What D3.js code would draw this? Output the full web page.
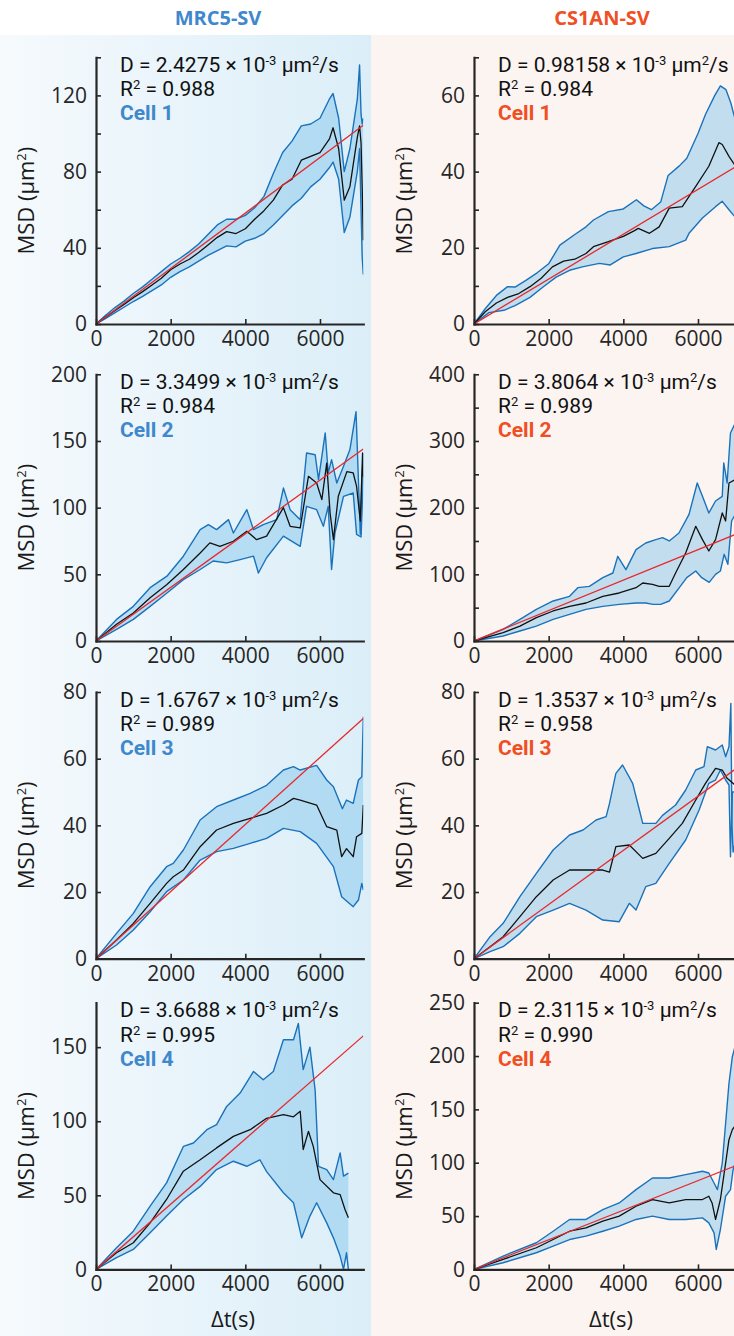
<!DOCTYPE html>
<html>
<head>
<meta charset="utf-8">
<script src="https://cdn.jsdelivr.net/npm/d3@7"></script>
<style>
  body { margin: 0; background: #ffffff; }
  svg { display: block; }
  text { font-family: "Open Sans", "DejaVu Sans", sans-serif; }
  text.note { font-family: Roboto, "Open Sans", sans-serif; }
</style>
</head>
<body>
<svg id="fig" width="734" height="1336"></svg>
<script>
// ---------------- data ----------------
const tMax = 7160;                       // s, end of the lag-time axis
const timeTicks = [0, 2000, 4000, 6000];
const cellNames = ["Cell 1", "Cell 2", "Cell 3", "Cell 4"];

// fitted diffusion coefficients (×10^-3 µm²/s) and R² of the fits
const mrcD  = [2.4275, 3.3499, 1.6767, 3.6688];
const mrcR2 = ["0.988", "0.984", "0.989", "0.995"];
const csD   = [0.98158, 3.8064, 1.3537, 2.3115];
const csR2  = ["0.984", "0.989", "0.958", "0.990"];

// y-axis extents, tick spacing and label spacing
const mrcYMax = [140, 200, 80, 180];
const mrcTickStep = [20, 50, 20, 50];
const mrcLabelStep = [40, 50, 20, 50];
const csYMax = [70, 400, 80, 250];
const csTickStep = [10, 50, 20, 50];
const csLabelStep = [20, 100, 20, 50];

// MSD curves: [lag time (s), MSD (µm²)] — mean and upper/lower envelope
const mrc1Mean  = [[0,0],[250,3.6],[500,7],[750,10.3],[1000,13.8],[1250,17],[1500,20.5],[1750,24],[2000,28.5],[2250,31.5],[2500,34],[2750,37.5],[3000,41.5],[3250,45.5],[3500,48.5],[3750,47.5],[4000,50],[4250,55],[4500,59.5],[4750,65],[5000,73],[5250,76],[5500,86],[5750,88],[6000,90],[6250,97],[6350,103],[6500,92],[6650,65],[6800,72],[7000,98],[7060,104],[7100,95],[7130,72],[7160,44]];
const mrc1Upper = [[0,0],[250,4.5],[500,8.5],[750,12],[1000,16],[1250,19.5],[1500,23.5],[1750,27.5],[2000,31.5],[2250,34.5],[2500,38],[2750,42],[3000,47],[3250,52],[3500,55],[3750,55],[4000,57],[4250,61],[4500,67],[4750,79],[5000,90],[5250,96],[5500,104],[5750,105],[6000,108],[6250,118],[6350,121],[6500,108],[6650,80],[6800,92],[7000,118],[7060,136],[7100,110],[7130,105],[7160,108]];
const mrc1Lower = [[0,0],[250,2.8],[500,5.8],[750,8.8],[1000,11.8],[1250,14.5],[1500,17.5],[1750,20.5],[2000,24.5],[2250,27.5],[2500,30],[2750,33],[3000,36],[3250,38.5],[3500,41],[3750,40.5],[4000,43.5],[4250,45],[4500,47.5],[4750,52],[5000,57],[5250,62],[5500,66],[5750,72],[6000,76],[6250,82],[6350,85],[6500,76],[6650,48],[6800,56],[7000,80],[7060,92],[7100,60],[7130,35],[7160,26]];

const mrc2Mean  = [[0,0],[550,12.5],[1000,21],[1450,32.4],[1900,42.4],[2340,53.6],[2790,66],[3050,73.6],[3320,71],[3680,74.8],[4040,82.3],[4300,76],[4570,78.6],[5020,100],[5200,86],[5470,84.8],[5690,123.5],[5910,118.5],[6050,106],[6180,133.4],[6270,96],[6360,76],[6490,108.5],[6720,127],[6890,126],[6980,116],[7080,90],[7140,141],[7160,123]];
const mrc2Upper = [[0,0],[550,16.2],[1000,26],[1450,40],[1900,48.6],[2340,63.6],[2790,83.5],[3010,87.3],[3230,83.5],[3550,91],[3680,81],[4040,98.5],[4220,83.5],[4480,87.3],[4840,91],[5020,114.7],[5200,98.5],[5470,91],[5640,141],[5870,139.7],[5960,121],[6140,156],[6220,126],[6310,136],[6450,118.5],[6630,131],[6800,143.4],[6965,172],[7030,120],[7080,80],[7130,125],[7160,141]];
const mrc2Lower = [[0,0],[550,8.7],[1000,16.2],[1450,26],[1900,36],[2340,46],[2790,53.6],[3140,60],[3500,58.6],[3860,61],[4220,63.6],[4350,51],[4570,62.4],[5020,78.6],[5470,71],[5640,101],[5910,98.5],[6090,86],[6220,101],[6310,53.6],[6400,81],[6630,108.5],[6890,111],[6980,80],[7100,78],[7160,123]];

const mrc3Mean  = [[0,0],[550,5.6],[1000,10.6],[1450,16.6],[1890,22.6],[2070,24.6],[2340,26.6],[2790,33.6],[3230,38.6],[3680,40.6],[4130,42.1],[4570,43.6],[5020,46.1],[5290,48.1],[5470,47.6],[5910,46.1],[6180,39.6],[6450,38.6],[6580,30.6],[6710,33],[6890,30.6],[6980,36.6],[7120,37.6],[7160,46.1]];
const mrc3Upper = [[0,0],[550,7.6],[1000,13.6],[1450,21.6],[1890,27.6],[2070,28.6],[2340,32.6],[2790,41.6],[3230,45.6],[3680,47.6],[4130,49.6],[4570,52],[5020,56.6],[5290,57.6],[5470,56.6],[5910,58],[6180,53.6],[6360,51.6],[6540,46.6],[6600,45],[6710,47.6],[6890,46.6],[7030,53.6],[7120,54.6],[7160,72.6]];
const mrc3Lower = [[0,0],[550,4.1],[1000,8.6],[1450,14.1],[1890,20.1],[2340,23.6],[2790,29.6],[3230,32.1],[3680,33.1],[4130,34.6],[4570,36.1],[5020,39.1],[5470,38.1],[5910,34.6],[6360,27.6],[6580,18.6],[6890,15.6],[7030,17.6],[7120,22.6],[7160,20.6]];

const mrc4Mean  = [[0,0],[550,11.2],[1000,18],[1450,31.4],[1890,47.2],[2340,66.3],[2790,74],[3230,82],[3680,89.8],[4130,94.3],[4570,102],[5020,104.4],[5290,103],[5470,106.7],[5550,80.9],[5690,93.2],[5820,83],[6000,60.6],[6360,51.7],[6540,50.5],[6670,40.4],[6760,34.8]];
const mrc4Upper = [[0,0],[550,14.6],[1000,25.8],[1450,42.7],[1890,58.4],[2340,83],[2610,85.3],[2970,94.3],[3230,97.7],[3500,110],[3860,119],[4220,133.6],[4480,128],[4750,133.6],[5020,155],[5290,155],[5420,166],[5550,134.8],[5730,150],[5870,121],[5960,69.6],[6180,67.4],[6360,60.6],[6540,78.6],[6630,63],[6760,65]];
const mrc4Lower = [[0,0],[550,7.9],[1000,13.5],[1450,24.7],[1890,36],[2340,47.2],[2790,56],[3230,67.4],[3680,73],[4040,69.6],[4390,74],[4570,66],[5020,51.7],[5290,45],[5510,21.3],[5730,36],[5910,45],[6180,31.4],[6360,21.3],[6540,9],[6630,0],[6710,11.2],[6760,0]];

const cs1Mean  = [[0,0],[300,3.2],[600,5.5],[900,7],[1200,8],[1500,9.8],[1800,12],[2100,15],[2400,16.5],[2700,17],[3000,18.5],[3200,20.3],[3600,21.6],[4000,23],[4300,24.5],[4400,25.1],[4700,23.8],[4960,25.5],[5230,30.4],[5580,30.8],[5940,36.1],[6290,41.4],[6560,47.6],[6650,47.1],[6830,44],[7000,41.5]];
const cs1Upper = [[0,0],[300,4],[600,7.5],[900,9.8],[1100,9.7],[1400,11.5],[1700,13.5],[2000,15.8],[2300,20.7],[2700,23.5],[3000,25.5],[3200,27.3],[3600,29.5],[4000,30.2],[4350,32.6],[4550,31],[4750,30],[5000,32],[5200,39],[5500,41.5],[5700,43.5],[6000,50],[6200,55],[6450,60],[6600,62.5],[6750,61.5],[6880,58],[7000,53.5]];
const cs1Lower = [[0,0],[400,3],[800,3.6],[1100,4.8],[1500,7],[1850,9.7],[2200,12.3],[2560,14.1],[2900,15],[3360,15.9],[3650,15.5],[4000,17.6],[4340,18.5],[4780,19.8],[5230,20.3],[5670,22],[5760,23.8],[6120,27.8],[6470,30.8],[6650,32.2],[6830,30],[7000,28]];

const cs2Mean  = [[0,0],[780,12.5],[1230,22.4],[1670,35],[2120,45],[2560,52],[3000,57],[3450,67],[3890,72],[4340,80],[4520,87],[4780,85],[4960,82],[5230,82],[5400,102],[5670,132],[5940,172],[6120,152],[6290,135],[6470,152],[6650,192],[6740,180],[6830,237],[7000,242]];
const cs2Upper = [[0,0],[780,17.5],[1230,32.4],[1670,47.4],[2120,60],[2560,67],[2780,80],[3090,82],[3450,95],[3720,102],[3850,127],[4070,107],[4340,137],[4600,147],[4870,152],[5050,155],[5230,150],[5490,162],[5760,190],[5980,237],[6120,217],[6290,192],[6470,210],[6650,217],[6690,267],[6780,237],[6870,312],[7000,327]];
const cs2Lower = [[0,0],[780,7.5],[1230,15],[1670,22.4],[2120,32.4],[2560,40],[3000,47.4],[3450,52],[3890,55],[4340,57],[4600,57],[4800,55],[5000,55],[5230,60],[5500,80],[5700,95],[5940,105],[6100,95],[6300,88],[6470,100],[6600,105],[6700,130],[6800,115],[6900,180],[7000,190]];

const cs3Mean  = [[0,0],[430,3.6],[780,6.6],[1230,12.6],[1670,18.6],[2120,23.6],[2560,26.6],[3000,26.6],[3450,26.6],[3630,26],[3800,33.6],[4160,34.1],[4520,30.1],[4870,31.6],[5230,36.1],[5580,40.6],[5940,47.6],[6200,52.6],[6470,57.1],[6650,56.6],[6780,54.1],[7000,52]];
const cs3Upper = [[0,0],[430,6.6],[780,10.6],[1230,18.6],[1670,25.6],[2120,32.6],[2560,37.1],[2920,38.6],[3270,41.6],[3540,42.6],[3630,46.6],[3800,55.6],[3980,58.1],[4250,52.6],[4430,44.6],[4520,40.6],[4870,40.6],[5050,43],[5400,46.1],[5670,50.6],[5940,56.6],[6160,57.6],[6250,63.6],[6470,62.6],[6650,64.1],[6740,60.6],[6830,63.6],[6880,76.6],[6910,40],[6940,32],[7000,35]];
const cs3Lower = [[0,0],[430,2.1],[780,3.6],[1230,7.6],[1670,12.6],[2120,14.6],[2560,16.6],[3000,14.6],[3450,11.6],[3890,11.1],[4160,16.6],[4340,14.6],[4600,21.6],[4870,22.6],[5230,28.6],[5670,35.6],[6030,44.6],[6290,52.6],[6470,53.6],[6600,56.6],[6740,53.6],[6830,52.1],[6870,30.6],[6920,50],[7000,50]];

const cs4Mean  = [[0,0],[780,9.4],[1670,20.3],[2120,28],[2560,35.8],[3000,39],[3450,45.2],[3890,49.9],[4340,59.2],[4780,65.5],[5230,62.3],[5670,65.5],[6120,65.5],[6290,68.6],[6380,62],[6470,46.8],[6600,65.5],[6740,99.7],[6830,121.6],[6920,131],[7000,135]];
const cs4Upper = [[0,0],[780,12.5],[1670,25],[2120,35.8],[2560,46.8],[3000,46.8],[3450,56],[3890,62.3],[4340,74.8],[4780,85.7],[5230,85.7],[5670,88.8],[6120,92],[6290,90.4],[6430,81],[6520,74.8],[6650,99.7],[6740,137],[6830,174.5],[6920,199.5],[7000,210]];
const cs4Lower = [[0,0],[780,6.2],[1670,15.6],[2120,21.8],[2560,28],[3000,31.2],[3450,35.8],[3890,40.5],[4340,46.8],[4780,49.9],[5230,46.8],[5670,46.8],[6120,48.3],[6290,43.6],[6430,34.3],[6490,18.7],[6600,37.4],[6740,68.6],[6870,74.8],[6940,93.5],[7000,100]];

// ---------------- layout ----------------
const W = 734, H = 1336;
const plotW = 267.3, plotH = 266.7;
const plotTops = [57.3, 374.3, 692, 1002.7];
const axisColor = "#262626";
const noteSize = 21, supSize = 13;

const columns = [
  { title: "MRC5-SV", color: "#3f88cc", axisX: 96, titleX: 218,
    D: mrcD, r2: mrcR2, yMax: mrcYMax, tickStep: mrcTickStep, labelStep: mrcLabelStep,
    curves: [[mrc1Mean, mrc1Upper, mrc1Lower], [mrc2Mean, mrc2Upper, mrc2Lower],
             [mrc3Mean, mrc3Upper, mrc3Lower], [mrc4Mean, mrc4Upper, mrc4Lower]] },
  { title: "CS1AN-SV", color: "#f04e23", axisX: 474, titleX: 602,
    D: csD, r2: csR2, yMax: csYMax, tickStep: csTickStep, labelStep: csLabelStep,
    curves: [[cs1Mean, cs1Upper, cs1Lower], [cs2Mean, cs2Upper, cs2Lower],
             [cs3Mean, cs3Upper, cs3Lower], [cs4Mean, cs4Upper, cs4Lower]] }
];

const svg = d3.select("#fig");
const defs = svg.append("defs");

// column backgrounds
const grad = defs.append("linearGradient").attr("id", "mrcBg")
  .attr("x1", "0").attr("x2", "1").attr("y1", "0").attr("y2", "0");
grad.append("stop").attr("offset", "0").attr("stop-color", "#f6fafd");
grad.append("stop").attr("offset", "1").attr("stop-color", "#dbeef8");
svg.append("rect").attr("x", 0).attr("y", 35).attr("width", 371.5).attr("height", H - 35)
  .attr("fill", "url(#mrcBg)");
svg.append("rect").attr("x", 371.5).attr("y", 35).attr("width", W - 371.5).attr("height", H - 35)
  .attr("fill", "#fcf4f1");

const x = d3.scaleLinear().domain([0, tMax]).range([0, plotW]);

columns.forEach((col, ci) => {
  // column heading
  svg.append("text")
    .attr("x", col.titleX).attr("y", 25)
    .attr("text-anchor", "middle")
    .attr("font-size", 20).attr("font-weight", 700)
    .attr("fill", col.color)
    .text(col.title);

  col.curves.forEach((curve, pi) => {
    const [mean, upper, lower] = curve;
    const top = plotTops[pi];
    const yMax = col.yMax[pi];
    const y = d3.scaleLinear().domain([0, yMax]).range([plotH, 0]);
    const g = svg.append("g").attr("transform", `translate(${col.axisX},${top})`);

    const clipId = `clip-${ci}-${pi}`;
    defs.append("clipPath").attr("id", clipId)
      .append("rect").attr("x", 0).attr("y", -2).attr("width", plotW).attr("height", plotH + 2);

    const line = d3.line().x(d => x(d[0])).y(d => y(d[1]));
    const data = g.append("g").attr("clip-path", `url(#${clipId})`);

    // envelope between the upper and lower curves
    data.append("path")
      .attr("d", line(upper.concat(lower.slice().reverse())) + "Z")
      .attr("fill", "#7cc3ea").attr("fill-opacity", 0.45).attr("stroke", "none");
    [upper, lower].forEach(c => {
      data.append("path").attr("d", line(c))
        .attr("fill", "none").attr("stroke", "#1a72bb").attr("stroke-width", 1.4)
        .attr("stroke-linejoin", "round");
    });
    data.append("path").attr("d", line(mean))
      .attr("fill", "none").attr("stroke", "#111111").attr("stroke-width", 1.3)
      .attr("stroke-linejoin", "round");

    // linear fit MSD = 6·D·t
    const D = col.D[pi];
    data.append("path")
      .attr("d", line([[0, 0], [tMax, 6 * D * 1e-3 * tMax]]))
      .attr("fill", "none").attr("stroke", "#e8282b").attr("stroke-width", 1.3);

    // axes
    const step = col.tickStep[pi], lab = col.labelStep[pi];
    const yAxis = d3.axisLeft(y)
      .tickValues(d3.range(0, yMax + 1e-6, step))
      .tickFormat(v => (Math.round(v) % lab === 0 ? d3.format("d")(v) : ""))
      .tickSizeInner(-5).tickSizeOuter(0).tickPadding(9);
    const xAxis = d3.axisBottom(x)
      .tickValues(timeTicks)
      .tickFormat(d3.format("d"))
      .tickSizeInner(-5).tickSizeOuter(0).tickPadding(7);

    const ya = g.append("g").call(yAxis);
    const xa = g.append("g").attr("transform", `translate(0,${plotH})`).call(xAxis);
    [ya, xa].forEach(a => {
      a.attr("font-family", null).attr("font-size", null);
      a.select(".domain").attr("stroke", axisColor).attr("stroke-width", 2.2)
        .attr("stroke-linecap", "square");
      a.selectAll(".tick line").attr("stroke", axisColor).attr("stroke-width", 1.6);
      a.selectAll(".tick text").attr("fill", axisColor).attr("font-size", 21)
        .style("font-family", '"Open Sans", sans-serif');
    });

    // y-axis title
    const yl = g.append("text")
      .attr("transform", `translate(-62,${plotH / 2 + 10}) rotate(-90)`)
      .attr("text-anchor", "middle").attr("font-size", 22).attr("fill", "#1a1a1a");
    yl.append("tspan").text("MSD (μm");
    yl.append("tspan").attr("dy", -8).attr("font-size", 13).text("2");
    yl.append("tspan").attr("dy", 8).text(")");

    // fit annotation
    const a1 = g.append("text").attr("class", "note").attr("x", 24).attr("y", 14.5)
      .attr("font-size", noteSize).attr("fill", "#111111");
    a1.append("tspan").text(`D = ${D} × 10`);
    a1.append("tspan").attr("dy", -7).attr("font-size", supSize).text("-3");
    a1.append("tspan").attr("dy", 7).text(" μm");
    a1.append("tspan").attr("dy", -7).attr("font-size", supSize).text("2");
    a1.append("tspan").attr("dy", 7).text("/s");

    const a2 = g.append("text").attr("class", "note").attr("x", 24).attr("y", 39)
      .attr("font-size", noteSize).attr("fill", "#111111");
    a2.append("tspan").text("R");
    a2.append("tspan").attr("dy", -7).attr("font-size", supSize).text("2");
    a2.append("tspan").attr("dy", 7).text(` = ${col.r2[pi]}`);

    g.append("text").attr("class", "note").attr("x", 24).attr("y", 63)
      .attr("font-size", noteSize).attr("font-weight", 700).attr("fill", col.color)
      .text(cellNames[pi]);

    // x-axis title under the bottom row
    if (pi === plotTops.length - 1) {
      g.append("text")
        .attr("x", 137).attr("y", plotH + 58)
        .attr("text-anchor", "middle").attr("font-size", 22).attr("fill", "#1a1a1a")
        .text("Δt(s)");
    }
  });
});
</script>
</body>
</html>
